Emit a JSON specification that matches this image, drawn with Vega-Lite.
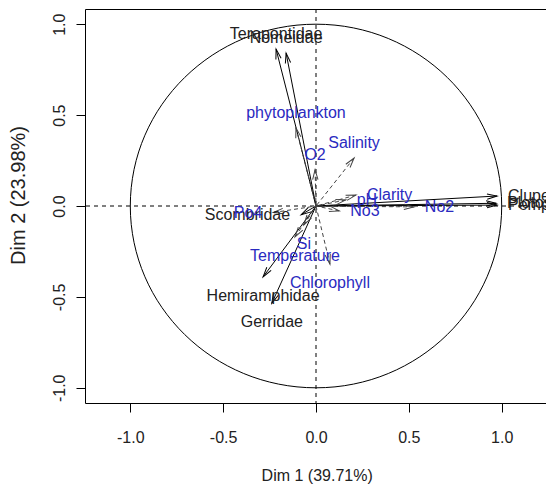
{
  "$schema": "https://vega.github.io/schema/vega-lite/v6.json",
  "width": 461,
  "height": 394,
  "autosize": {"type": "none"},
  "padding": {"left": 85, "top": 9, "right": 0, "bottom": 82},
  "background": "white",
  "config": {"view": {"stroke": null}, "font": "Liberation Sans"},
  "data": {
    "values": [
      {"name": "Terapontidae", "type": "active", "x": -0.215, "y": 0.863},
      {"name": "Nomeidae", "type": "active", "x": -0.161, "y": 0.841},
      {"name": "Scombridae", "type": "active", "x": -0.08, "y": -0.048},
      {"name": "Hemiramphidae", "type": "active", "x": -0.285, "y": -0.39},
      {"name": "Gerridae", "type": "active", "x": -0.238, "y": -0.535},
      {"name": "Clupeidae", "type": "active", "x": 0.975, "y": 0.055},
      {"name": "Plotosidae", "type": "active", "x": 0.97, "y": 0.015},
      {"name": "Pempheridae", "type": "active", "x": 0.975, "y": 0.005},
      {"name": "phytoplankton", "type": "sup", "x": -0.108, "y": 0.43},
      {"name": "O2", "type": "sup", "x": -0.005, "y": 0.2},
      {"name": "Salinity", "type": "sup", "x": 0.205, "y": 0.264},
      {"name": "Clarity", "type": "sup", "x": 0.215, "y": 0.06},
      {"name": "pH", "type": "sup", "x": 0.16, "y": 0.033},
      {"name": "No3", "type": "sup", "x": 0.125, "y": -0.027},
      {"name": "No2", "type": "sup", "x": 0.527, "y": -0.005},
      {"name": "Po4", "type": "sup", "x": -0.23, "y": -0.036},
      {"name": "Si", "type": "sup", "x": -0.065, "y": -0.104},
      {"name": "Temperature", "type": "sup", "x": -0.113, "y": -0.17},
      {"name": "Chlorophyll", "type": "sup", "x": 0.075, "y": -0.32}
    ]
  },
  "resolve": {"axis": {"x": "independent", "y": "independent"}},
  "layer": [
    {
      "data": {"values": [{"zero": 0}]},
      "mark": {"type": "rule", "strokeDash": [4, 4], "color": "black", "strokeWidth": 1},
      "encoding": {
        "x": {
          "field": "zero", "type": "quantitative",
          "scale": {"domain": [-1.244, 1.2386], "nice": false, "zero": false},
          "axis": {
            "orient": "bottom", "values": [-1, -0.5, 0, 0.5, 1],
            "labelExpr": "(datum.value < 0 ? '-' : '') + format(abs(datum.value), '.1f')",
            "grid": false, "domainColor": "black", "domainWidth": 1,
            "tickColor": "black", "tickSize": 9, "tickWidth": 1,
            "labelFont": "Liberation Sans", "labelFontSize": 16, "labelColor": "#222222",
            "labelPadding": 17, "labelFlush": false, "labelOverlap": false,
            "title": "Dim 1 (39.71%)", "titleFont": "Liberation Sans", "titleFontSize": 16,
            "titleFontWeight": "normal", "titleColor": "#222222",
            "titleX": 231.7, "titleY": 77.7, "titleBaseline": "alphabetic", "titleAlign": "center", "titleAngle": 0
          }
        }
      }
    },
    {
      "data": {"values": [{"zero": 0}]},
      "mark": {"type": "rule", "strokeDash": [4, 4], "color": "black", "strokeWidth": 1},
      "encoding": {
        "y": {
          "field": "zero", "type": "quantitative",
          "scale": {"domain": [-1.0836, 1.0836], "nice": false, "zero": false},
          "axis": {
            "orient": "left", "values": [-1, -0.5, 0, 0.5, 1],
            "labelExpr": "(datum.value < 0 ? '-' : '') + format(abs(datum.value), '.1f')",
            "grid": false, "domainColor": "black", "domainWidth": 1,
            "tickColor": "black", "tickSize": 9, "tickWidth": 1,
            "labelFont": "Liberation Sans", "labelFontSize": 16, "labelColor": "#222222",
            "labelAngle": 270, "labelAlign": "center", "labelBaseline": "alphabetic",
            "labelPadding": 12, "labelFlush": false, "labelOverlap": false,
            "title": "Dim 2 (23.98%)", "titleFont": "Liberation Sans", "titleFontSize": 20,
            "titleFontWeight": "normal", "titleColor": "#222222",
            "titleAngle": 270, "titleX": -61, "titleY": 186, "titleBaseline": "alphabetic", "titleAlign": "center"
          }
        }
      }
    },
    {
      "data": {"values": [{"zero": 0}]},
      "mark": {
        "type": "point",
        "shape": "M 1 0 A 1 0.979 0 1 1 -1 0 A 1 0.979 0 1 1 1 0 Z",
        "size": 137938, "filled": false, "stroke": "black", "strokeWidth": 1, "opacity": 1
      },
      "encoding": {
        "x": {
          "field": "zero", "type": "quantitative",
          "axis": {"orient": "top", "labels": false, "ticks": false, "title": null, "grid": false, "domainColor": "black", "domainWidth": 1}
        },
        "y": {"field": "zero", "type": "quantitative", "axis": null}
      }
    },
    {
      "transform": [{"filter": "datum.type === 'active'"}],
      "mark": {"type": "rule", "color": "black", "strokeWidth": 1},
      "encoding": {
        "x": {"field": "x", "type": "quantitative", "axis": null},
        "y": {"field": "y", "type": "quantitative", "axis": null},
        "x2": {"datum": 0},
        "y2": {"datum": 0}
      }
    },
    {
      "transform": [
        {"filter": "datum.type === 'active'"},
        {"calculate": "atan2(datum.x, datum.y) * 180 / PI", "as": "heading"}
      ],
      "mark": {"type": "point", "shape": "M -0.268 1 L 0 0 L 0.268 1", "size": 400, "filled": false, "stroke": "black", "strokeWidth": 1, "opacity": 1},
      "encoding": {
        "x": {"field": "x", "type": "quantitative", "axis": null},
        "y": {"field": "y", "type": "quantitative", "axis": null},
        "angle": {"field": "heading", "type": "quantitative", "scale": null}
      }
    },
    {
      "transform": [{"filter": "datum.type === 'sup'"}],
      "mark": {"type": "rule", "color": "#444444", "strokeWidth": 1, "strokeDash": [4, 3]},
      "encoding": {
        "x": {"field": "x", "type": "quantitative", "axis": null},
        "y": {"field": "y", "type": "quantitative", "axis": null},
        "x2": {"datum": 0},
        "y2": {"datum": 0}
      }
    },
    {
      "transform": [
        {"filter": "datum.type === 'sup'"},
        {"calculate": "atan2(datum.x, datum.y) * 180 / PI", "as": "heading"}
      ],
      "mark": {"type": "point", "shape": "M -0.268 1 L 0 0 L 0.268 1", "size": 400, "filled": false, "stroke": "#444444", "strokeWidth": 1, "opacity": 1},
      "encoding": {
        "x": {"field": "x", "type": "quantitative", "axis": null},
        "y": {"field": "y", "type": "quantitative", "axis": null},
        "angle": {"field": "heading", "type": "quantitative", "scale": null}
      }
    },
    {
      "transform": [{"filter": "abs(datum.y) >= abs(datum.x) && datum.y >= 0"}],
      "mark": {"type": "text", "fontSize": 16, "font": "Liberation Sans", "align": "center", "baseline": "alphabetic", "dy": -10},
      "encoding": {
        "x": {"field": "x", "type": "quantitative", "axis": null},
        "y": {"field": "y", "type": "quantitative", "axis": null},
        "text": {"field": "name"},
        "color": {"field": "type", "type": "nominal", "scale": {"domain": ["active", "sup"], "range": ["#222222", "#2a2ac0"]}, "legend": null}
      }
    },
    {
      "transform": [{"filter": "abs(datum.y) >= abs(datum.x) && datum.y < 0"}],
      "mark": {"type": "text", "fontSize": 16, "font": "Liberation Sans", "align": "center", "baseline": "alphabetic", "dy": 24},
      "encoding": {
        "x": {"field": "x", "type": "quantitative", "axis": null},
        "y": {"field": "y", "type": "quantitative", "axis": null},
        "text": {"field": "name"},
        "color": {"field": "type", "type": "nominal", "scale": {"domain": ["active", "sup"], "range": ["#222222", "#2a2ac0"]}, "legend": null}
      }
    },
    {
      "transform": [{"filter": "abs(datum.x) > abs(datum.y) && datum.x >= 0"}],
      "mark": {"type": "text", "fontSize": 16, "font": "Liberation Sans", "align": "left", "baseline": "middle", "dx": 11},
      "encoding": {
        "x": {"field": "x", "type": "quantitative", "axis": null},
        "y": {"field": "y", "type": "quantitative", "axis": null},
        "text": {"field": "name"},
        "color": {"field": "type", "type": "nominal", "scale": {"domain": ["active", "sup"], "range": ["#222222", "#2a2ac0"]}, "legend": null}
      }
    },
    {
      "transform": [{"filter": "abs(datum.x) > abs(datum.y) && datum.x < 0"}],
      "mark": {"type": "text", "fontSize": 16, "font": "Liberation Sans", "align": "right", "baseline": "middle", "dx": -11},
      "encoding": {
        "x": {"field": "x", "type": "quantitative", "axis": null},
        "y": {"field": "y", "type": "quantitative", "axis": null},
        "text": {"field": "name"},
        "color": {"field": "type", "type": "nominal", "scale": {"domain": ["active", "sup"], "range": ["#222222", "#2a2ac0"]}, "legend": null}
      }
    }
  ]
}
